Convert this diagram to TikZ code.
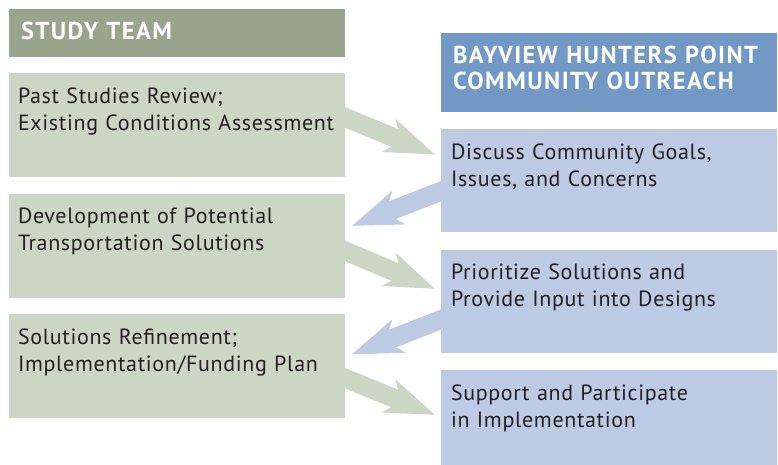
\documentclass[tikz,border=0pt]{standalone}
\usepackage{fontspec}
\setmainfont{PT Sans}
\usetikzlibrary{positioning,calc,arrows.meta}
\definecolor{hdgreen}{RGB}{152,165,140}
\definecolor{bxgreen}{RGB}{204,214,196}
\definecolor{hdblue}{RGB}{114,152,198}
\definecolor{bxblue}{RGB}{188,202,228}
\definecolor{txt}{RGB}{35,31,32}
\tikzset{
  bx/.style={rectangle, inner sep=0pt, align=left, text=txt,
    font=\fontsize{22}{27}\selectfont\addfontfeature{LetterSpace=3}, text height=30pt},
  gbox/.style={bx, fill=bxgreen, inner xsep=9pt, text width=318pt, text depth=74pt},
  bbox/.style={bx, fill=bxblue, inner xsep=10pt, text width=316pt, text depth=73pt},
  hdr/.style={rectangle, inner sep=0pt, inner xsep=12pt, text width=312pt, align=left,
    text=white, font=\bfseries\fontsize{24.5}{26}\selectfont\addfontfeature{LetterSpace=6},
    text height=31pt},
  garrow/.style={draw=bxgreen, line width=19pt,
    -{Stealth[length=50pt,width=36pt,inset=14pt,line width=0pt]}},
  barrow/.style={garrow, draw=bxblue}
}
\begin{document}
\begin{tikzpicture}[x=1pt,y=-1pt]
  \useasboundingbox (0,0) rectangle (778,465);
  % study team column
  \node[hdr, fill=hdgreen, text depth=17pt] (st) at (177,33) {STUDY TEAM};
  \node[gbox, below=16pt of st] (past) {Past Studies Review;\\Existing Conditions Assessment};
  \node[gbox, below=16pt of past] (devel) {Development of Potential\\Transportation Solutions};
  \node[gbox, below=16pt of devel] (refine) {Solutions Refinement;\\Implementation/Funding Plan};
  % outreach column
  \node[hdr, fill=hdblue, text depth=48pt] (bhp) at (609,72.5) {BAYVIEW HUNTERS POINT\\COMMUNITY OUTREACH};
  \node[bbox, below=17pt of bhp] (goals) {Discuss Community Goals,\\Issues, and Concerns};
  \node[bbox, below=17pt of goals] (prior) {Prioritize Solutions and\\Provide Input into Designs};
  \node[bbox, below=17pt of prior, text depth=65pt] (supp) {Support and Participate\\in Implementation};
  % arrows
  \draw[garrow] ($(past.east)+(-10,-12)$) -- ($(goals.west)+(-6,-26.5)$);
  \draw[barrow] ($(goals.west)+(10,6.5)$) -- ($(devel.east)+(7,-20)$);
  \draw[garrow] ($(devel.east)+(-10,1)$) -- ($(prior.west)+(-6,-12.5)$);
  \draw[barrow] ($(prior.west)+(10,14.5)$) -- ($(refine.east)+(7,-12)$);
  \draw[garrow] ($(refine.east)+(-10,8)$) -- ($(supp.west)+(-6,-3)$);
\end{tikzpicture}
\end{document}
